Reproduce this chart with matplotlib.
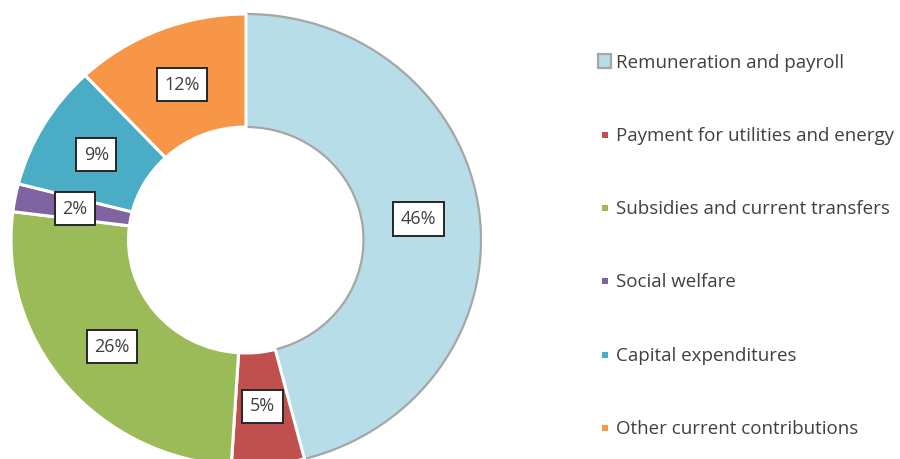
import matplotlib
matplotlib.use('Agg')
import matplotlib.pyplot as plt

categories = ['Remuneration and payroll', 'Payment for utilities and energy',
              'Subsidies and current transfers', 'Social welfare',
              'Capital expenditures', 'Other current contributions']
shares = [46, 5, 26, 2, 9, 12]
colors = ['#B7DDE8', '#C0504D', '#9BBB59', '#8064A2', '#4BACC6', '#F79646']

plt.rcParams['font.family'] = ['Open Sans', 'DejaVu Sans']
text_color = '#404040'

W, H = 900, 459
fig = plt.figure(figsize=(W / 100, H / 100), dpi=100)

# donut centre and outer radii in pixels (ring is slightly flattened)
cx, cy, rx, ry = 246, 240, 235, 226
ax = fig.add_axes([(cx - rx) / W, (H - cy - ry) / H, 2 * rx / W, 2 * ry / H])

wedges, _, autotexts = ax.pie(
    shares, colors=colors, startangle=90, counterclock=False, radius=1,
    autopct='%d%%', pctdistance=0.74,
    wedgeprops=dict(width=0.5, edgecolor='white', linewidth=2.2),
    textprops=dict(fontsize=13, color=text_color))
wedges[0].set_edgecolor('#A6A6A6')
wedges[0].set_linewidth(1.6)
wedges[0].set_zorder(0)

ax.set_xlim(-1, 1)
ax.set_ylim(-1, 1)
ax.set_aspect('auto')
ax.axis('off')

for t in autotexts:
    t.set_bbox(dict(boxstyle='square,pad=0.42', facecolor='white',
                    edgecolor='#262626', linewidth=1.4))

leg = fig.legend(wedges, categories, loc='upper left',
                 bbox_to_anchor=(590 / W, 1 - 46 / H), frameon=False,
                 fontsize=13.5, labelspacing=2.95, handlelength=0.7,
                 handleheight=0.7, handletextpad=0.3, borderaxespad=0)
for t in leg.get_texts():
    t.set_color(text_color)
# small key squares, except the outlined first one
for h in leg.legend_handles[1:]:
    h.set_linewidth(5)

fig.savefig('out.png', dpi=100)
